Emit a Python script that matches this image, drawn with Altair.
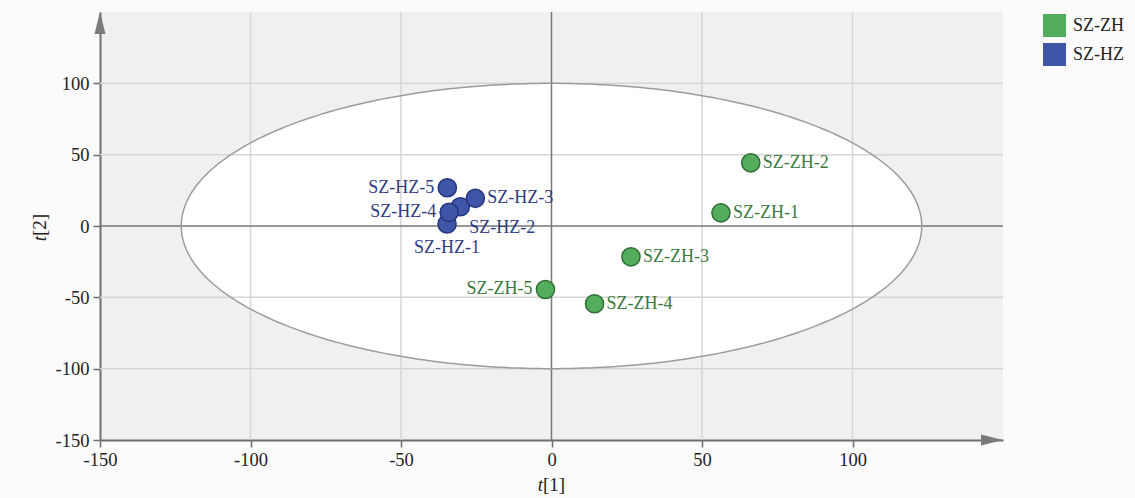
import numpy as np
import pandas as pd
import altair as alt

# PCA score values (t[1], t[2]) for the two groups
zh_names = ["SZ-ZH-1", "SZ-ZH-2", "SZ-ZH-3", "SZ-ZH-4", "SZ-ZH-5"]
zh_t1 = [56.3, 66.2, 26.4, 14.3, -2.0]
zh_t2 = [9.2, 44.3, -21.6, -54.5, -44.5]

hz_names = ["SZ-HZ-1", "SZ-HZ-2", "SZ-HZ-3", "SZ-HZ-4", "SZ-HZ-5"]
hz_t1 = [-34.7, -30.3, -25.3, -34.0, -34.6]
hz_t2 = [1.4, 13.5, 19.4, 9.6, 26.8]

groups = ["SZ-ZH", "SZ-HZ"]
group_fill = ["#53ad5c", "#3e55a8"]
group_stroke = ["#2f6e34", "#27367c"]
group_text = ["#3b7a3f", "#2f3b80"]

# Hotelling T2 ellipse semi-axes
ellipse_a = 123
ellipse_b = 100

grid_vals = [-100, -50, 50, 100]
tick_vals = [-150, -100, -50, 0, 50, 100]
lim = [-150, 150]

SERIF = "Liberation Serif"

scores = pd.DataFrame({
    "name": zh_names + hz_names,
    "t1": zh_t1 + hz_t1,
    "t2": zh_t2 + hz_t2,
    "group": ["SZ-ZH"] * len(zh_names) + ["SZ-HZ"] * len(hz_names),
})
scores["order"] = range(len(scores))

ang = np.linspace(0, np.pi, 181)
ell_fill = pd.DataFrame({
    "x": ellipse_a * np.cos(ang),
    "ytop": ellipse_b * np.sin(ang),
    "ybot": -ellipse_b * np.sin(ang),
})
ang2 = np.linspace(0, 2 * np.pi, 361)
ell_line = pd.DataFrame({
    "x": ellipse_a * np.cos(ang2),
    "y": ellipse_b * np.sin(ang2),
    "k": range(len(ang2)),
})

xs = alt.Scale(domain=lim, nice=False, zero=False)
ys = alt.Scale(domain=lim, nice=False, zero=False)

axis_style = dict(
    values=tick_vals, labelExpr="datum.value + ''",  # plain hyphen for negatives
    title=None, grid=False, domainColor="#6f6f6f", domainWidth=2,
    tickColor="#6f6f6f", tickWidth=1.5, tickSize=7,
    labelFont=SERIF, labelFontSize=18.5, labelColor="#222222", labelFlush=False,
)
x_axis = alt.Axis(labelPadding=3, **axis_style)
y_axis = alt.Axis(labelPadding=4, **axis_style)


def X(field):
    return alt.X(field, scale=xs, axis=x_axis)


def Y(field):
    return alt.Y(field, scale=ys, axis=y_axis)


# invisible anchor so the axis domain lines span the full range
anchor = alt.Chart(pd.DataFrame({"x": lim, "y": lim})).mark_point(opacity=0).encode(
    x=X("x:Q"), y=Y("y:Q"),
)

ellipse_area = alt.Chart(ell_fill).mark_area(color="white", opacity=1).encode(
    x=X("x:Q"), y=Y("ytop:Q"), y2="ybot:Q"
)

vgrid = alt.Chart(pd.DataFrame({"v": grid_vals})).mark_rule(
    color="#d6d6d6", strokeWidth=1.5).encode(
    x=X("v:Q"), y=alt.value(0), y2=alt.value(428))
hgrid = alt.Chart(pd.DataFrame({"v": grid_vals})).mark_rule(
    color="#d6d6d6", strokeWidth=1.5).encode(
    y=Y("v:Q"), x=alt.value(0), x2=alt.value(903))

vzero = alt.Chart(pd.DataFrame({"v": [0]})).mark_rule(
    color="#777777", strokeWidth=1.5).encode(
    x=X("v:Q"), y=alt.value(0), y2=alt.value(428))
hzero = alt.Chart(pd.DataFrame({"v": [0]})).mark_rule(
    color="#777777", strokeWidth=1.5).encode(
    y=Y("v:Q"), x=alt.value(0), x2=alt.value(903))

ellipse_line = alt.Chart(ell_line).mark_line(color="#9c9c9c", strokeWidth=1.5).encode(
    x=X("x:Q"), y=Y("y:Q"), order="k:Q"
)

points = alt.Chart(scores).mark_point(filled=True, size=330, opacity=1,
                                      strokeWidth=1.5, shape="circle").encode(
    x=X("t1:Q"),
    y=Y("t2:Q"),
    fill=alt.Fill("group:N", scale=alt.Scale(domain=groups, range=group_fill),
                  legend=alt.Legend(title=None, orient="none", legendX=943, legendY=2,
                                    symbolType="square", symbolSize=529,
                                    symbolStrokeWidth=0, symbolOpacity=1,
                                    labelFont=SERIF, labelFontSize=18,
                                    labelColor="#222222", labelOffset=7,
                                    rowPadding=6, padding=0)),
    stroke=alt.Stroke("group:N", scale=alt.Scale(domain=groups, range=group_stroke),
                      legend=None),
    order="order:Q",
)

text_color = alt.Color("group:N", scale=alt.Scale(domain=groups, range=group_text),
                       legend=None)

right_names = ["SZ-ZH-1", "SZ-ZH-2", "SZ-ZH-3", "SZ-ZH-4", "SZ-HZ-3"]
left_names = ["SZ-ZH-5", "SZ-HZ-4", "SZ-HZ-5"]


def label_layer(names, **mark_kw):
    return alt.Chart(scores).transform_filter(
        alt.FieldOneOfPredicate(field="name", oneOf=names)
    ).mark_text(font=SERIF, fontSize=18, baseline="middle", **mark_kw).encode(
        x=X("t1:Q"), y=Y("t2:Q"), text="name:N", color=text_color)


labels = [
    label_layer(right_names, align="left", dx=12),
    label_layer(left_names, align="right", dx=-13),
    label_layer(["SZ-HZ-2"], align="left", dx=9, dy=21),
    label_layer(["SZ-HZ-1"], align="center", dy=24),
]

# axis arrowheads
arrow_right = alt.Chart(pd.DataFrame({"x": [150], "y": [-150]})).mark_point(
    shape="M0,0L-2,-0.5L-2,0.5Z", size=484, filled=True, color="#7a7a7a", opacity=1
).encode(x=X("x:Q"), y=Y("y:Q"))
arrow_up = alt.Chart(pd.DataFrame({"x": [-150], "y": [150]})).mark_point(
    shape="M0,0L-0.5,2L0.5,2Z", size=484, filled=True, color="#7a7a7a", opacity=1
).encode(x=X("x:Q"), y=Y("y:Q"))

# axis titles: italic t followed by upright index
one = pd.DataFrame({"a": [0]})
xt_italic = alt.Chart(one).mark_text(text="t", font=SERIF, fontSize=19, fontStyle="italic",
                                     align="right", baseline="middle", color="#222222"
                                     ).encode(x=alt.value(443), y=alt.value(473))
xt_index = alt.Chart(one).mark_text(text="[1]", font=SERIF, fontSize=19,
                                    align="left", baseline="middle", color="#222222"
                                    ).encode(x=alt.value(443), y=alt.value(473))
yt_italic = alt.Chart(one).mark_text(text="t", font=SERIF, fontSize=19, fontStyle="italic",
                                     align="right", baseline="middle", angle=270,
                                     color="#222222"
                                     ).encode(x=alt.value(-60), y=alt.value(224))
yt_index = alt.Chart(one).mark_text(text="[2]", font=SERIF, fontSize=19,
                                    align="left", baseline="middle", angle=270,
                                    color="#222222"
                                    ).encode(x=alt.value(-60), y=alt.value(224))

chart = alt.layer(
    anchor, ellipse_area, vgrid, hgrid, vzero, hzero, ellipse_line, points,
    *labels, arrow_right, arrow_up, xt_italic, xt_index, yt_italic, yt_index
).properties(
    width=903, height=428,
    autosize=alt.AutoSizeParams(type="none"),
    padding={"left": 100, "top": 12, "right": 132, "bottom": 58},
    background="#fbfbfb",
).configure_view(
    fill="#f0f0f0", stroke=None
)

chart.save("out.html", embed_options={"renderer": "svg", "actions": False})
